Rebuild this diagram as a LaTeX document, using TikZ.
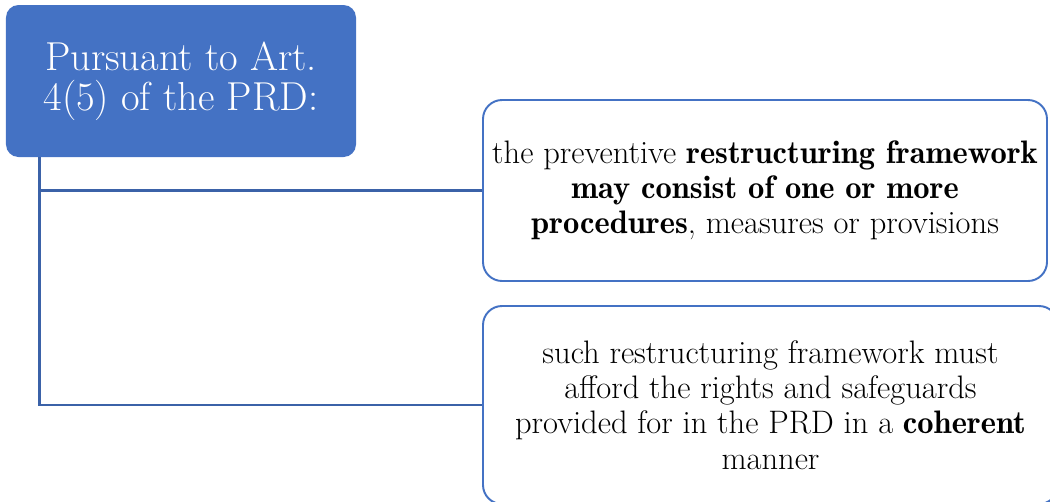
\documentclass[tikz,border=0pt]{standalone}
\usepackage{xcolor}
\usepackage{tikz}
\usetikzlibrary{positioning, calc}

\definecolor{prdblue}{HTML}{4472C4}
\definecolor{prdline}{HTML}{3B62A8}
\newcommand{\keyword}[1]{{\fontseries{b}\selectfont #1}}

\begin{document}
\begin{tikzpicture}[
    headbox/.style={draw=none, fill=prdblue, rounded corners=0.25cm, text=white,
      minimum width=7cm, minimum height=3.04cm, align=center,
      font=\fontsize{23}{23}\selectfont},
    textbox/.style={draw=prdblue, line width=1.1pt, rounded corners=0.38cm, fill=white,
      minimum width=11.28cm, align=center, font=\fontsize{18.5}{20}\selectfont},
    link/.style={draw=prdline, line width=1.4pt}
  ]
      \useasboundingbox (0,0) rectangle (21,-10.04);
      \node[headbox] (title) at (3.62,-1.62) {Pursuant to Art.\\4(5) of the PRD:};
      \node[textbox, minimum height=3.62cm] (frame1) at (15.3,-3.81) {
        the preventive \keyword{restructuring framework}\\
        \keyword{may consist of one or more}\\
        \keyword{procedures}, measures or provisions};
      \node[textbox, minimum height=3.96cm, minimum width=11.5cm] (frame2) at (15.41,-8.1) {
        such restructuring framework must\\
        afford the rights and safeguards\\
        provided for in the PRD in a \keyword{coherent}\\
        manner};

      \draw[link] ([xshift=0.68cm]title.south west) |- (frame1.west);
      \draw[link] ([xshift=0.68cm]title.south west) |- (frame2.west);
    \end{tikzpicture}
\end{document}
